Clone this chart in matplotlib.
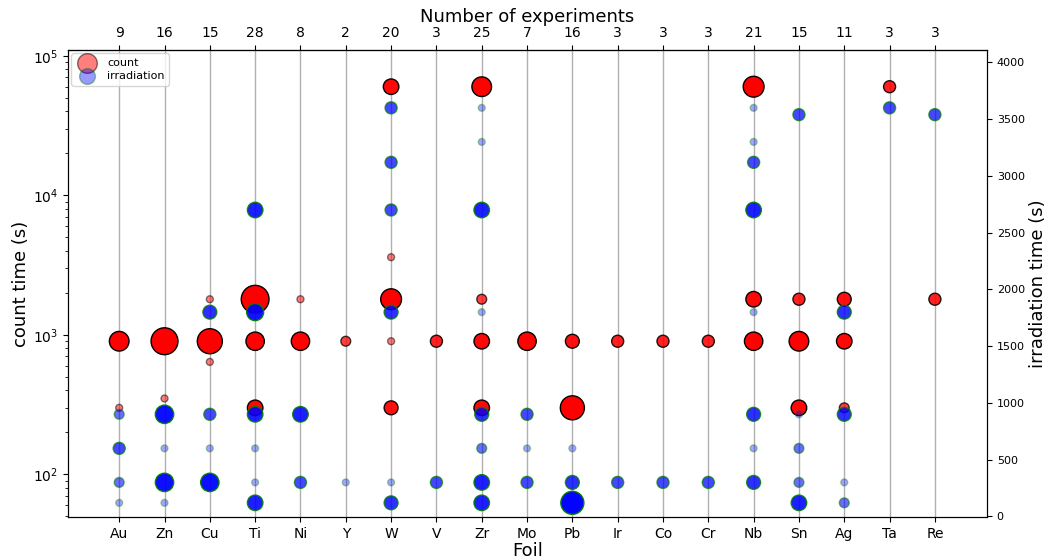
import matplotlib
matplotlib.use("Agg")
import matplotlib.pyplot as plt
import numpy as np

foils = ["Au", "Zn", "Cu", "Ti", "Ni", "Y", "W", "V", "Zr", "Mo",
         "Pb", "Ir", "Co", "Cr", "Nb", "Sn", "Ag", "Ta", "Re"]
n_experiments = [9, 16, 15, 28, 8, 2, 20, 3, 25, 7, 16, 3, 3, 3, 21, 15, 11, 3, 3]

# count time: foil, time (s), how many experiments used it
count_foil = ["Au", "Au", "Zn", "Zn", "Cu", "Cu", "Cu", "Ti", "Ti", "Ti",
              "Ni", "Ni", "Y", "W", "W", "W", "W", "W", "V",
              "Zr", "Zr", "Zr", "Zr", "Mo", "Pb", "Pb", "Ir", "Co", "Cr",
              "Nb", "Nb", "Nb", "Sn", "Sn", "Sn", "Ag", "Ag", "Ag", "Ta", "Re"]
count_time = [900, 300, 900, 350, 1800, 900, 640, 1800, 900, 300,
              1800, 900, 900, 60000, 3600, 1800, 900, 300, 900,
              60000, 1800, 900, 300, 900, 900, 300, 900, 900, 900,
              60000, 1800, 900, 1800, 900, 300, 1800, 900, 300, 60000, 1800]
count_n = [8, 1, 15, 1, 1, 13, 1, 16, 7, 5,
           1, 7, 2, 5, 1, 9, 1, 4, 3,
           8, 2, 5, 5, 7, 4, 12, 3, 3, 3,
           9, 5, 7, 3, 8, 5, 4, 5, 2, 3, 3]

# irradiation time: foil, time (s), how many experiments used it
irr_foil = ["Au", "Au", "Au", "Au", "Zn", "Zn", "Zn", "Zn",
            "Cu", "Cu", "Cu", "Cu", "Ti", "Ti", "Ti", "Ti", "Ti", "Ti",
            "Ni", "Ni", "Y", "W", "W", "W", "W", "W", "W", "V",
            "Zr", "Zr", "Zr", "Zr", "Zr", "Zr", "Zr", "Zr",
            "Mo", "Mo", "Mo", "Pb", "Pb", "Pb", "Ir", "Co", "Cr",
            "Nb", "Nb", "Nb", "Nb", "Nb", "Nb", "Nb", "Nb",
            "Sn", "Sn", "Sn", "Sn", "Sn", "Ag", "Ag", "Ag", "Ag", "Ta", "Re"]
irr_time = [900, 600, 300, 120, 900, 600, 300, 120,
            1800, 900, 600, 300, 2700, 1800, 900, 600, 300, 120,
            900, 300, 300, 3600, 3120, 2700, 1800, 300, 120, 300,
            3600, 3300, 2700, 1800, 900, 600, 300, 120,
            900, 600, 300, 600, 300, 120, 300, 300, 300,
            3600, 3300, 3120, 2700, 1800, 900, 600, 300,
            3540, 900, 600, 300, 120, 1800, 900, 300, 120, 3600, 3540]
irr_n = [2, 3, 2, 1, 7, 1, 7, 1,
         4, 3, 1, 7, 5, 6, 5, 1, 1, 5,
         5, 3, 1, 3, 3, 3, 4, 1, 4, 3,
         1, 1, 5, 1, 4, 2, 5, 5,
         3, 1, 3, 1, 4, 11, 3, 3, 3,
         1, 1, 3, 5, 1, 4, 1, 4,
         3, 1, 2, 2, 5, 4, 4, 1, 2, 3, 3]

pos = {f: i for i, f in enumerate(foils)}
cx = np.array([pos[f] for f in count_foil])
ix = np.array([pos[f] for f in irr_foil])
cn = np.array(count_n)
inn = np.array(irr_n)

fig = plt.figure(figsize=(10.46, 5.59), dpi=100)
ax = fig.add_subplot(111)
fig.subplots_adjust(left=0.065, right=0.9436, top=0.9106, bottom=0.0751)

ax.grid(axis="x", color="#b0b0b0", linewidth=1.0)
ax.set_axisbelow(True)
ax.scatter(cx, count_time, s=25 * cn, c="red", edgecolors="black",
           alpha=1 - 0.5 ** cn, zorder=3)
ax.set_yscale("log")
ax.set_ylim(49.5, 1.1e5)
ax.set_xlim(-1.13, 19.15)
ax.set_xticks(range(len(foils)))
ax.set_xticklabels(foils, fontsize=10)
ax.set_xlabel("Foil", fontsize=13, labelpad=1)
ax.set_ylabel("count time (s)", fontsize=13, labelpad=2)

ax2 = ax.twinx()
ax2.scatter(ix, irr_time, s=25 * inn, c="blue", edgecolors="green",
            alpha=1 - 0.65 ** inn, zorder=3)
ax2.set_ylim(-5, 4110)
ax2.set_yticks(np.arange(0, 4001, 500))
ax2.tick_params(axis="y", labelsize=8)
ax2.set_ylabel("irradiation time (s)", fontsize=13, labelpad=3)

top = ax.secondary_xaxis("top")
top.set_xticks(range(len(foils)))
top.set_xticklabels([str(n) for n in n_experiments], fontsize=10)
top.set_xlabel("Number of experiments", fontsize=13, labelpad=3)

h1 = ax.scatter([], [], s=200, c="red", edgecolors="black", alpha=0.5, label="count")
h2 = ax.scatter([], [], s=130, c="blue", edgecolors="green", alpha=0.4, label="irradiation")
ax2.legend(handles=[h1, h2], loc="upper left", fontsize=8, labelspacing=0.3,
           handletextpad=0.8, borderpad=0.4, borderaxespad=0.3)

fig.savefig("out.png", dpi=100)
